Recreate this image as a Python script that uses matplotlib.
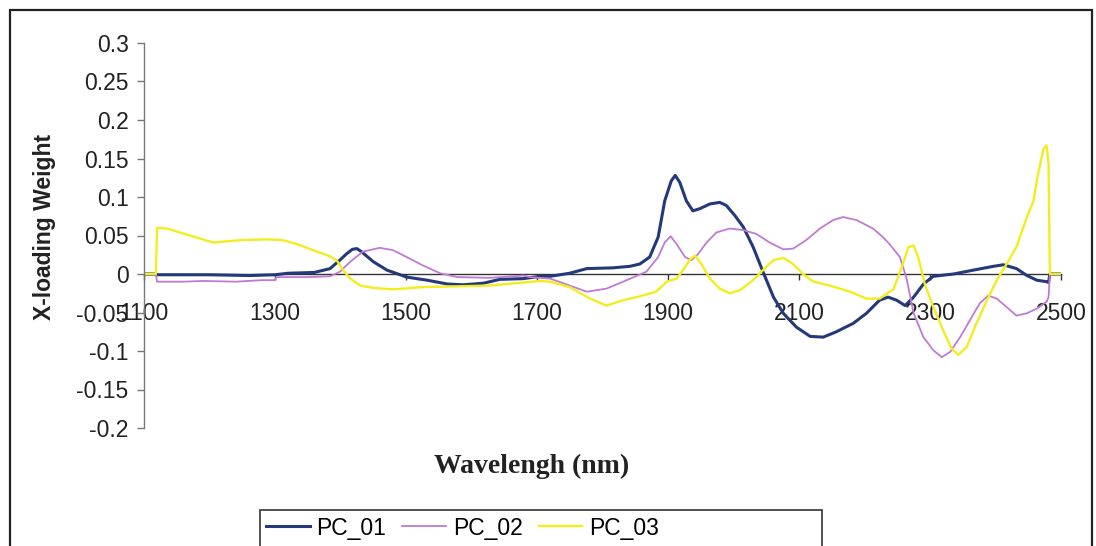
import matplotlib
matplotlib.use("Agg")
import matplotlib.pyplot as plt
from matplotlib.patches import Rectangle

# wavelength (nm) / loading values
wl_pc1 = [1100, 1118, 1120, 1200, 1260, 1300, 1320, 1360, 1384, 1399, 1409, 1418, 1425, 1432,
          1450, 1471, 1501, 1532, 1563, 1587, 1618, 1643, 1679, 1705, 1720, 1750, 1776, 1816,
          1842, 1857, 1872, 1885, 1895, 1905, 1911, 1918, 1928, 1938, 1949, 1964, 1979, 1989,
          2002, 2015, 2030, 2045, 2061, 2076, 2096, 2117, 2137, 2157, 2183, 2203, 2223, 2236,
          2249, 2262, 2275, 2290, 2305, 2336, 2366, 2397, 2412, 2432, 2448, 2463, 2478, 2481,
          2483, 2500]
pc1 = [0, 0, -0.001, -0.001, -0.002, -0.001, 0.001, 0.002, 0.007, 0.018, 0.026, 0.032, 0.033, 0.029,
       0.016, 0.005, -0.004, -0.008, -0.013, -0.014, -0.012, -0.007, -0.006, -0.003, -0.003, 0.001, 0.007, 0.008,
       0.010, 0.013, 0.022, 0.048, 0.095, 0.121, 0.128, 0.119, 0.095, 0.082, 0.085, 0.091, 0.093, 0.089,
       0.076, 0.061, 0.035, 0.003, -0.030, -0.051, -0.069, -0.081, -0.082, -0.075, -0.064, -0.051, -0.034, -0.030,
       -0.034, -0.041, -0.030, -0.013, -0.003, 0.000, 0.005, 0.010, 0.012, 0.007, -0.002, -0.008, -0.010, -0.011,
       0, 0]

wl_pc2 = [1100, 1118, 1120, 1160, 1190, 1240, 1280, 1300, 1302, 1349, 1384, 1399, 1415, 1434,
          1460, 1480, 1501, 1526, 1552, 1578, 1628, 1679, 1689, 1720, 1750, 1776, 1806, 1837,
          1867, 1885, 1895, 1904, 1913, 1926, 1936, 1946, 1959, 1974, 1994, 2015, 2035, 2055,
          2076, 2091, 2111, 2132, 2152, 2167, 2188, 2213, 2228, 2239, 2254, 2264, 2275, 2290,
          2305, 2318, 2331, 2346, 2361, 2376, 2389, 2402, 2417, 2432, 2448, 2463, 2478, 2481,
          2483, 2500]
pc2 = [0, 0, -0.010, -0.010, -0.009, -0.010, -0.008, -0.008, -0.004, -0.004, -0.003, 0.003, 0.016, 0.029,
       0.034, 0.031, 0.022, 0.011, 0.001, -0.004, -0.005, -0.002, -0.004, -0.006, -0.015, -0.023, -0.019, -0.008,
       0.003, 0.022, 0.041, 0.049, 0.039, 0.022, 0.018, 0.026, 0.041, 0.054, 0.059, 0.057, 0.052, 0.041,
       0.032, 0.033, 0.044, 0.059, 0.070, 0.074, 0.070, 0.059, 0.048, 0.038, 0.022, -0.005, -0.051, -0.082,
       -0.099, -0.108, -0.101, -0.082, -0.060, -0.038, -0.028, -0.032, -0.043, -0.054, -0.051, -0.045, -0.036, -0.030,
       0, 0]

wl_pc3 = [1100, 1118, 1120, 1135, 1170, 1205, 1221, 1247, 1288, 1312, 1333, 1358, 1384, 1394,
          1404, 1415, 1430, 1450, 1480, 1526, 1578, 1628, 1679, 1705, 1720, 1750, 1781, 1806,
          1832, 1857, 1882, 1898, 1913, 1923, 1933, 1941, 1951, 1964, 1979, 1994, 2010, 2030,
          2045, 2061, 2076, 2091, 2106, 2122, 2147, 2178, 2203, 2223, 2244, 2257, 2267, 2275,
          2282, 2292, 2305, 2320, 2333, 2343, 2356, 2371, 2387, 2402, 2417, 2432, 2448, 2458,
          2465, 2473, 2478, 2481, 2483, 2500]
pc3 = [0, 0, 0.060, 0.059, 0.050, 0.041, 0.042, 0.044, 0.045, 0.044, 0.039, 0.031, 0.023, 0.018,
       0.005, -0.006, -0.015, -0.018, -0.020, -0.017, -0.016, -0.015, -0.011, -0.009, -0.010, -0.017, -0.032, -0.041,
       -0.034, -0.029, -0.023, -0.010, -0.006, 0.005, 0.018, 0.024, 0.013, -0.006, -0.019, -0.025, -0.021, -0.008,
       0.005, 0.018, 0.021, 0.013, 0.000, -0.010, -0.015, -0.023, -0.032, -0.032, -0.020, 0.009, 0.035, 0.037,
       0.022, -0.013, -0.043, -0.073, -0.097, -0.105, -0.095, -0.064, -0.034, -0.008, 0.013, 0.035, 0.074, 0.095,
       0.130, 0.162, 0.167, 0.143, 0.0, 0]

series_names = ["PC_01", "PC_02", "PC_03"]
x_ticks = [1100, 1300, 1500, 1700, 1900, 2100, 2300, 2500]
y_ticks = [-0.2, -0.15, -0.1, -0.05, 0, 0.05, 0.1, 0.15, 0.2, 0.25, 0.3]
y_labels = ["-0.2", "-0.15", "-0.1", "-0.05", "0", "0.05", "0.1", "0.15", "0.2", "0.25", "0.3"]

W, H = 1096, 546
fig = plt.figure(figsize=(W / 100, H / 100), dpi=100)
plt.rcParams['font.family'] = ['Liberation Sans', 'DejaVu Sans']

# plot area in pixel coordinates from the reference
ax = fig.add_axes([144 / W, 1 - 428 / H, (1061 - 144) / W, (428 - 43) / H])
ax.set_xlim(1100, 2500)
ax.set_ylim(-0.2, 0.3)

ax.plot(wl_pc1, pc1, color='#23397a', lw=2.2, label=series_names[0])
ax.plot(wl_pc2, pc2, color='#c07ad4', lw=1.3, label=series_names[1])
ax.plot(wl_pc3, pc3, color='#f2ee1e', lw=1.7, label=series_names[2])

for s in ['top', 'right']:
    ax.spines[s].set_visible(False)
ax.spines['left'].set_color('#777777')
ax.spines['left'].set_linewidth(1.0)
ax.spines['bottom'].set_position(('data', 0))
ax.spines['bottom'].set_color('#333333')
ax.spines['bottom'].set_linewidth(1.0)
ax.spines['bottom'].set_zorder(1)

ax.set_xticks(x_ticks)
ax.set_xticklabels([str(v) for v in x_ticks])
ax.set_yticks(y_ticks)
ax.set_yticklabels(y_labels)
ax.tick_params(axis='y', direction='out', length=5, width=1, color='#777777', pad=6,
               labelsize=16.5, labelcolor='#222222')
ax.tick_params(axis='x', direction='out', length=4, width=1, color='#333333', pad=16,
               labelsize=16.5, labelcolor='#222222')

fig.text(45 / W, 1 - 227 / H, 'X-loading Weight', rotation=90, ha='center', va='center',
         fontsize=16.5, fontweight='bold', color='#222222')
fig.text(532 / W, 1 - 466 / H, 'Wavelengh (nm)', ha='center', va='center',
         fontsize=20, fontweight='bold', family='Liberation Serif', color='#222222')

# legend box and outer chart border
fig.patches.append(Rectangle((260 / W, -0.01), (822 - 260) / W, 1 - 510 / H + 0.01,
                             transform=fig.transFigure, fill=False, ec='#333333', lw=1.2))
fig.patches.append(Rectangle((10 / W, -0.02), (1092 - 10) / W, 1 - 10 / H + 0.02,
                             transform=fig.transFigure, fill=False, ec='#222222', lw=1.6))

fig.legend(loc='center left', bbox_to_anchor=(266 / W, 1 - 528 / H), ncol=3, frameon=False,
           fontsize=16.5, handlelength=1.9, handletextpad=0.3, columnspacing=0.7,
           borderaxespad=0, borderpad=0)

fig.savefig('out.png', dpi=100, facecolor='white')
